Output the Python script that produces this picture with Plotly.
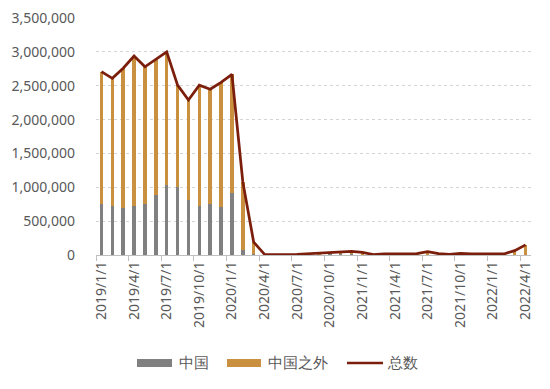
import plotly.graph_objects as go

months = [f"{y}/{m}/1" for y in (2019, 2020, 2021, 2022) for m in range(1, 13)][:40]

china = [750000, 720000, 690000, 720000, 750000, 890000, 1040000, 1000000, 810000, 720000,
         750000, 710000, 920000, 75000, 8000, 2000, 1000, 1000, 1000, 2000,
         3000, 8000, 10000, 8000, 5000, 1000, 1000, 1000, 1000, 1000,
         3000, 1000, 1000, 1000, 1000, 1000, 1000, 1000, 2000, 3000]
outside = [1960000, 1890000, 2070000, 2220000, 2030000, 2000000, 1960000, 1510000, 1480000, 1790000,
           1700000, 1840000, 1750000, 1005000, 182000, 8000, 4000, 4000, 9000, 18000,
           22000, 32000, 45000, 47000, 35000, 4000, 14000, 19000, 19000, 19000,
           47000, 19000, 9000, 24000, 14000, 14000, 14000, 14000, 63000, 147000]
total = [c + o for c, o in zip(china, outside)]

names = ["中国", "中国之外", "总数"]
colors = ["#808080", "#c8903f", "#7b1e0b"]

font = "Noto Sans, Liberation Sans, sans-serif"
txt = "#595959"

OFF = 8  # page body margin
W, H = 550 - OFF, 389 - OFF
L, R, T, B = 96 - OFF, 19, 18 - OFF, 134
PW, PH = W - L - R, H - T - B


def px(x):
    return (x - OFF - L) / PW


def py(y):
    return (H - B - (y - OFF)) / PH


fig = go.Figure()
fig.add_trace(go.Bar(x=months, y=china, name=names[0], marker=dict(color=colors[0], line_width=0)))
fig.add_trace(go.Bar(x=months, y=outside, name=names[1], marker=dict(color=colors[1], line_width=0)))
fig.add_trace(go.Scatter(x=months, y=total, name=names[2], mode="lines",
                         line=dict(color=colors[2], width=2.75)))

shapes = [
    dict(type="rect", xref="paper", yref="paper", x0=px(137), x1=px(172), y0=py(359), y1=py(367),
         fillcolor=colors[0], line=dict(width=0)),
    dict(type="rect", xref="paper", yref="paper", x0=px(227), x1=px(261), y0=py(359), y1=py(367),
         fillcolor=colors[1], line=dict(width=0)),
    dict(type="line", xref="paper", yref="paper", x0=px(347), x1=px(383), y0=py(363), y1=py(363),
         line=dict(color=colors[2], width=2.5)),
]
annotations = [
    dict(text=names[0], xref="paper", yref="paper", x=px(177), y=py(362), xanchor="left",
         yanchor="middle", showarrow=False, font=dict(size=15, color=txt)),
    dict(text=names[1], xref="paper", yref="paper", x=px(266), y=py(362), xanchor="left",
         yanchor="middle", showarrow=False, font=dict(size=15, color=txt)),
    dict(text=names[2], xref="paper", yref="paper", x=px(385), y=py(362), xanchor="left",
         yanchor="middle", showarrow=False, font=dict(size=15, color=txt)),
]

fig.update_layout(
    width=W, height=H,
    margin=dict(l=L, r=R, t=T, b=B),
    barmode="stack", bargap=0.68,
    plot_bgcolor="white", paper_bgcolor="white",
    font=dict(family=font, size=13, color=txt),
    showlegend=False,
    shapes=shapes, annotations=annotations,
)
fig.update_xaxes(type="category", tickmode="linear", tick0=0, dtick=3, tickangle=-90,
                 tickson="boundaries", ticks="outside", ticklen=5, tickcolor="#bfbfbf",
                 showline=True, linecolor="#bfbfbf", linewidth=1, showgrid=False,
                 automargin=False, ticklabeloverflow="allow",
                 tickfont=dict(size=14, color=txt))
fig.update_yaxes(range=[0, 3501500], dtick=500000, tickformat=",d", showgrid=True,
                 gridcolor="#d4d4d4", griddash="dot", gridwidth=1, zeroline=False,
                 automargin=False, ticklabeloverflow="allow", ticklabelstandoff=20,
                 tickfont=dict(size=14, color=txt))

fig.write_html("out.html")
